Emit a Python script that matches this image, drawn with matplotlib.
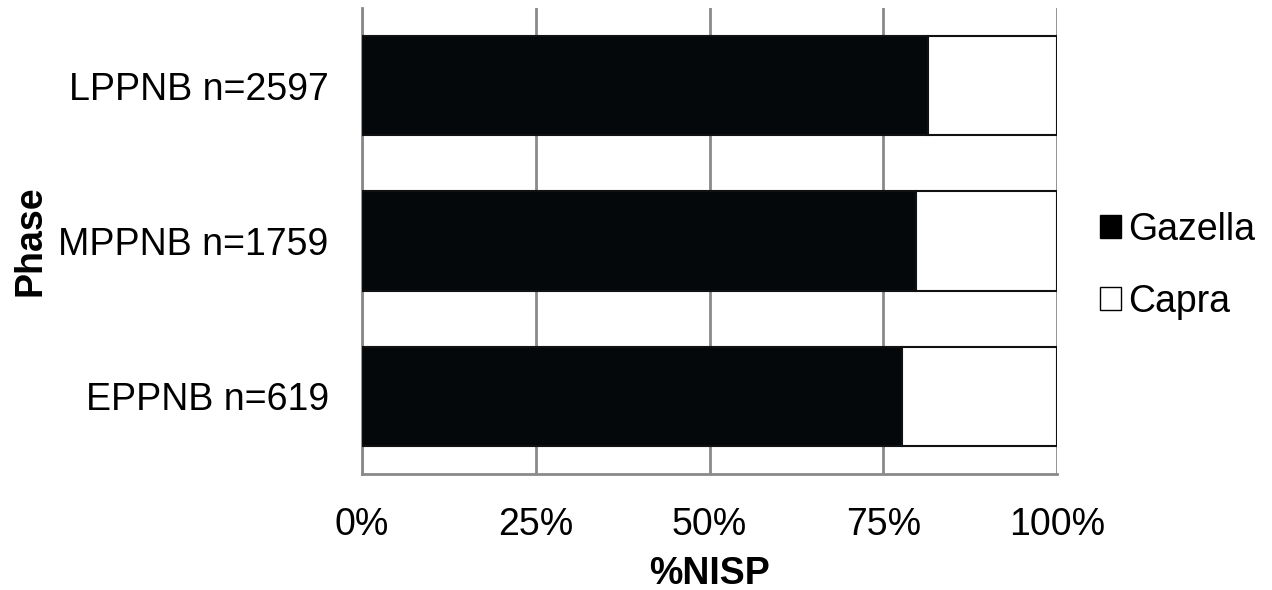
import matplotlib.pyplot as plt
from matplotlib.patches import Patch

plt.rcParams['font.family'] = ['Liberation Sans', 'DejaVu Sans']

phases = ["EPPNB n=619", "MPPNB n=1759", "LPPNB n=2597"]
gazella = [77.7, 79.7, 81.4]
capra = [22.3, 20.3, 18.6]

fig = plt.figure(figsize=(12.72, 5.9), dpi=100)
ax = fig.add_axes([0.2846, 0.1966, 0.8310 - 0.2846, 0.9864 - 0.1966])

ypos = range(len(phases))
ax.barh(ypos, gazella, height=0.64, color="#05080b", edgecolor="#111111", linewidth=1.5, zorder=3)
ax.barh(ypos, capra, left=gazella, height=0.64, color="white", edgecolor="#111111", linewidth=1.5, zorder=3)

ax.set_xlim(0, 100)
ax.set_ylim(-0.5, 2.5)
ax.set_xticks([0, 25, 50, 75, 100])
ax.set_xticklabels(["0%", "25%", "50%", "75%", "100%"])
ax.set_yticks(list(ypos))
ax.set_yticklabels(phases)
ax.tick_params(axis="both", length=0, labelsize=27)
ax.tick_params(axis="x", pad=24)
ax.tick_params(axis="y", pad=24)

ax.grid(axis="x", color="#8a8a8a", linewidth=2, zorder=0)
ax.set_axisbelow(True)
for s in ["top", "right"]:
    ax.spines[s].set_visible(False)
for s in ["left", "bottom"]:
    ax.spines[s].set_color("#8a8a8a")
    ax.spines[s].set_linewidth(2)

ax.set_xlabel("%NISP", fontsize=27, fontweight="bold", labelpad=9)
ax.set_ylabel("Phase", fontsize=27, fontweight="bold", labelpad=7)

handles = [Patch(facecolor="black", edgecolor="black", label="Gazella"),
           Patch(facecolor="white", edgecolor="black", label="Capra")]
fig.legend(handles=handles, loc="center left", bbox_to_anchor=(0.838, 0.55),
           frameon=False, fontsize=27, handlelength=0.56, handleheight=0.56,
           handletextpad=0.2, labelspacing=0.96)

fig.savefig("out.png", dpi=100)
